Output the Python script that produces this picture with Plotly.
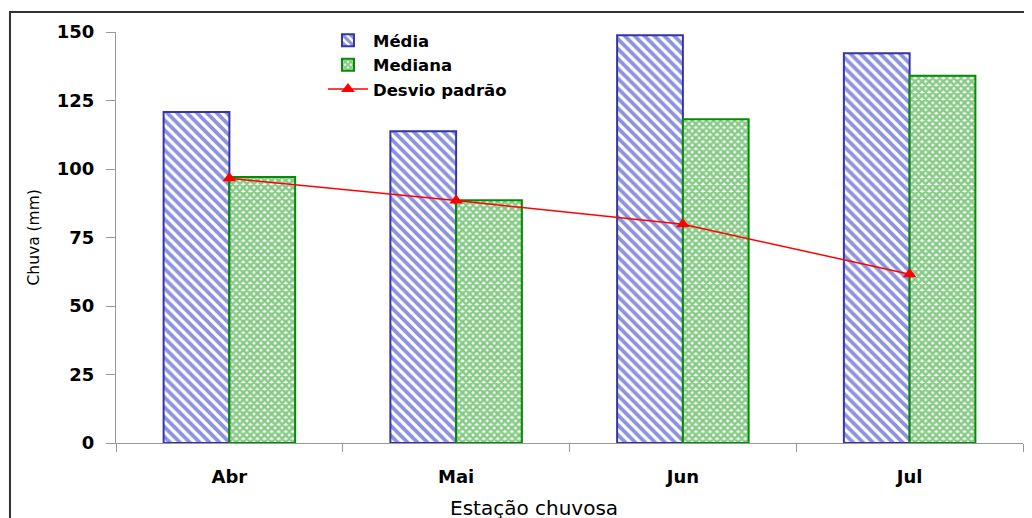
import plotly.graph_objects as go

meses = ["Abr", "Mai", "Jun", "Jul"]
media = [120.8, 113.8, 148.8, 142.2]
mediana = [97.1, 88.6, 118.2, 134.0]
desvio = [96.6, 88.5, 79.8, 61.6]
y_ticks = [0, 25, 50, 75, 100, 125, 150]

fig = go.Figure()
fig.add_trace(go.Bar(
    x=meses, y=media, name="Média",
    marker=dict(color="white", line=dict(color="#3535a8", width=2),
                pattern=dict(shape="\\", fgcolor="#1a28b8", bgcolor="white",
                             size=7, solidity=0.55)),
))
fig.add_trace(go.Bar(
    x=meses, y=mediana, name="Mediana",
    marker=dict(color="white", line=dict(color="#078a07", width=2),
                pattern=dict(shape="x", fgcolor="#0c980c", bgcolor="white",
                             size=5, solidity=0.75)),
))
fig.add_trace(go.Scatter(
    x=meses, y=desvio, name="Desvio padrão", mode="lines+markers",
    line=dict(color="#ff0000", width=1.5),
    marker=dict(symbol="triangle-up", size=12, color="#ff0000"),
))

# page body adds an 8px offset; margins compensate so plot area sits at x 116-1023, y 32-443
fig.update_layout(
    width=1032, height=518,
    margin=dict(l=108, r=17, t=24, b=83),
    plot_bgcolor="white", paper_bgcolor="white",
    barmode="group", bargap=0.42, bargroupgap=0,
    showlegend=True,
    legend=dict(x=0.2282, y=1.022, xanchor="left", yanchor="top",
                bgcolor="rgba(0,0,0,0)", tracegroupgap=0,
                font=dict(family="DejaVu Sans", size=16.5, color="black", weight="bold"),
                itemwidth=40),
    xaxis=dict(showgrid=False, showline=True, linecolor="#999999", linewidth=1,
               ticks="outside", ticklen=8, tickcolor="#999999", tickson="boundaries",
               ticklabelstandoff=17,
               tickfont=dict(family="DejaVu Sans", size=18, color="black", weight="bold")),
    yaxis=dict(range=[0, 150], tickvals=y_ticks, showgrid=False, showline=True,
               linecolor="#999999", linewidth=1, ticks="outside", ticklen=9,
               tickcolor="#999999", ticklabelstandoff=8, zeroline=False,
               tickfont=dict(family="DejaVu Sans", size=18, color="black", weight="bold")),
    shapes=[dict(type="rect", xref="paper", yref="paper",
                 x0=-0.1169, x1=1.03, y0=-0.25, y1=1.0487,
                 line=dict(color="#333333", width=2), fillcolor="rgba(0,0,0,0)",
                 layer="below")],
    annotations=[
        dict(text="Chuva (mm)", xref="paper", yref="paper", x=-0.0915, y=0.5,
             textangle=-90, showarrow=False, xanchor="center", yanchor="middle",
             font=dict(family="DejaVu Sans", size=15.5, color="black")),
        dict(text="Estação chuvosa", xref="paper", yref="paper", x=0.461, y=-0.158,
             showarrow=False, xanchor="center", yanchor="middle",
             font=dict(family="DejaVu Sans", size=20, color="black")),
    ],
)

fig.write_html("out.html")
